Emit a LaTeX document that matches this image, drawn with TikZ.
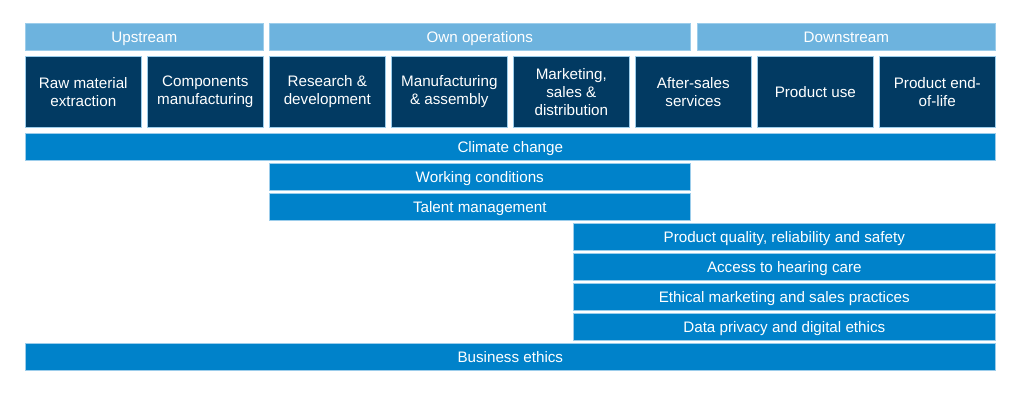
\documentclass[tikz,border=0pt]{standalone}
\usepackage{fontspec}
\setmainfont{Liberation Sans}
\usepackage{xcolor}
\usetikzlibrary{positioning}
\definecolor{headblue}{HTML}{6DB3DE}
\definecolor{navy}{HTML}{023A62}
\definecolor{barblue}{HTML}{0082CA}
\definecolor{edgeblue}{HTML}{9CCDEB}
\tikzset{
  box/.style={anchor=north west, inner sep=0pt, text=white, align=center,
    font=\fontsize{15.2}{18}\selectfont, draw=edgeblue, line width=0.6pt},
  line/.style={text height=11pt, text depth=0pt},
  head/.style={box, line, fill=headblue, minimum height=27},
  stage/.style={box, fill=navy, minimum width=116, minimum height=71},
  topic/.style={box, line, fill=barblue, minimum height=27}
}
\begin{document}
\begin{tikzpicture}[x=1pt,y=-1pt]
    \useasboundingbox (0,0) rectangle (1024,395);
    % value chain phases
    \node[head, minimum width=238] (up) at (25,23) {Upstream};
    \node[head, minimum width=421] (own) at (269,23) {Own operations};
    \node[head, minimum width=298] (down) at (697,23) {Downstream};
    % stages
    \node[stage] (raw) at (25,56) {Raw material\\extraction};
    \node[stage] (comp) at (147,56) {Components\\manufacturing};
    \node[stage] (rnd) at (269,56) {Research \&\\development};
    \node[stage] (manu) at (391,56) {Manufacturing\\\& assembly};
    \node[stage] (mkt) at (513,56) {Marketing,\\sales \&\\distribution};
    \node[stage] (after) at (635,56) {After-sales\\services};
    \node[stage] (use) at (757,56) {Product use};
    \node[stage] (eol) at (879,56) {Product end-\\of-life};
    % material topics
    \node[topic, minimum width=970] (climate) at (25,133) {Climate change};
    \node[topic, minimum width=421] (work) at (269,163) {Working conditions};
    \node[topic, minimum width=421] (talent) at (269,193) {Talent management};
    \node[topic, minimum width=422] (quality) at (573,223) {Product quality, reliability and safety};
    \node[topic, minimum width=422] (access) at (573,253) {Access to hearing care};
    \node[topic, minimum width=422] (ethical) at (573,283) {Ethical marketing and sales practices};
    \node[topic, minimum width=422] (privacy) at (573,313) {Data privacy and digital ethics};
    \node[topic, minimum width=970] (business) at (25,343) {Business ethics};
\end{tikzpicture}
\end{document}
